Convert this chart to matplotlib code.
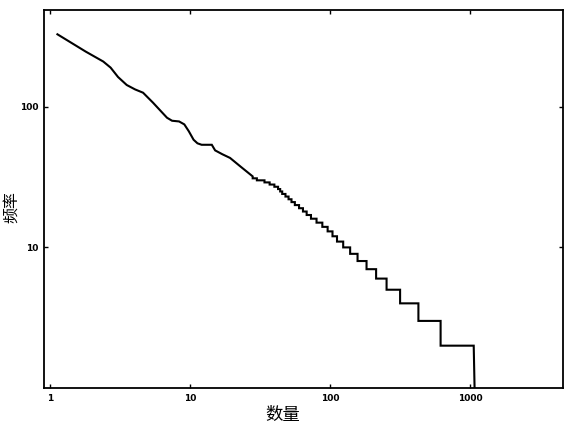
import numpy as np
import matplotlib
matplotlib.use("Agg")
import matplotlib.pyplot as plt
from matplotlib.ticker import FixedLocator, NullLocator

plt.rcParams['font.family'] = ['Noto Sans CJK SC', 'DejaVu Sans']

# Smooth head of the curve (rank, frequency)
head_x = [1.13, 1.8, 2.4, 2.71, 3.06, 3.53, 4.05, 4.62, 5.44, 6.2, 6.85, 7.44, 8.35, 9.1,
          9.8, 10.6, 11.3, 12.1, 14.3, 15.1, 17.0, 19.3, 23.0, 28.0]
head_y = [328, 247, 210, 190, 163, 143, 133, 126, 107, 93, 83.6, 79.6, 78.7, 75,
          67, 58.3, 55, 53.7, 53.7, 49, 46, 43.3, 37.5, 32]

# Stepped tail: frequency level and the rank where that level ends
levels = [31, 30, 29, 28, 27, 26, 25, 24, 23, 22, 21, 20, 19, 18, 17, 16,
          15, 14, 13, 12, 11, 10, 9, 8, 7, 6, 5, 4, 3, 2]
level_end = [30, 34, 37, 40, 42.5, 44, 45.5, 48, 50.5, 53, 56, 60, 64, 68, 73, 80,
             88, 96, 104, 112, 124, 139, 157, 182, 213, 253, 316, 427, 615, 1060]
last_rank = 1075

x_ticks = [1, 10, 100, 1000]
x_labels = ["1", "10", "100", "1000"]
y_ticks = [10, 100]
y_labels = ["10", "100"]

fig = plt.figure(figsize=(5.66, 4.29), dpi=100)
ax = fig.add_axes([0.0777, 0.0956, 0.917, 0.881])

# build the step path from the level table
step_x = [head_x[-1]] + level_end[:-1]
sx = []
sy = []
for start, end, lv in zip(step_x, level_end, levels):
    sx += [start, end]
    sy += [lv, lv]
sx += [last_rank]
sy += [1.0]

ax.plot(head_x + sx, head_y + sy, color="black", linewidth=1.5, solid_joinstyle="miter")

ax.set_xscale("log")
ax.set_yscale("log")
ax.set_xlim(0.906, 4600)
ax.set_ylim(1.0, 488)

ax.xaxis.set_major_locator(FixedLocator(x_ticks))
ax.yaxis.set_major_locator(FixedLocator(y_ticks))
ax.xaxis.set_minor_locator(NullLocator())
ax.yaxis.set_minor_locator(NullLocator())
ax.set_xticklabels(x_labels, fontsize=6.5, fontweight="bold", family="DejaVu Sans")
ax.set_yticklabels(y_labels, fontsize=6.5, fontweight="bold", family="DejaVu Sans")
ax.tick_params(direction="in", length=3, width=1, top=True, right=True, pad=4)

for sp in ax.spines.values():
    sp.set_linewidth(1.3)

ax.set_xlabel("数量", fontsize=12.5)
ax.set_ylabel("频率", fontsize=11.5)
ax.xaxis.set_label_coords(0.46, -0.048)
ax.yaxis.set_label_coords(-0.046, 0.48)

fig.savefig("out.png", dpi=100)
